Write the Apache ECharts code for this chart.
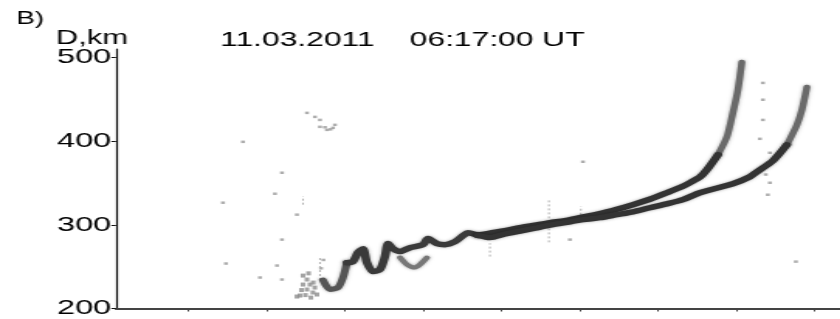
<!DOCTYPE html>
<html>
<head>
<meta charset="utf-8">
<script src="https://cdn.jsdelivr.net/npm/echarts@6/dist/echarts.min.js"></script>
<style>
html, body { margin: 0; padding: 0; background: #fff; overflow: hidden; }
/* the original picture is stretched sideways, so the chart is drawn narrow and widened */
#wrap { width: 542px; height: 319px; transform: scaleX(1.55); transform-origin: 0 0; }
#chart { width: 542px; height: 319px; }
</style>
</head>
<body>
<div id="wrap"><div id="chart"></div></div>
<script>
// axis ticks
const yTicks = [200, 300, 400, 500];
const xTicks = [1, 2, 3, 4, 5, 6, 7, 8, 9];

// first loop of the wavy trace
const waveHead = [[2.724, 234], [2.814, 222.7], [2.916, 225.0], [2.980, 237.0], [3.031, 254.8]];
// wavy trunk before the split
const waveTrunk = [[3.031, 254.8], [3.107, 256.0], [3.171, 266.8], [3.235, 271.5], [3.286, 254.8], [3.363, 244.1],
  [3.452, 246.5], [3.516, 262], [3.556, 277.5], [3.618, 271.5], [3.708, 268.0], [3.835, 272.7],
  [4.001, 276.3], [4.065, 283.5], [4.180, 277.5], [4.282, 276.3], [4.410, 279.9], [4.512, 287.0],
  [4.576, 290.6], [4.704, 287.5]];
// small loop under the trunk
const sideLoop = [[3.708, 260.8], [3.797, 252.5], [3.899, 248.9], [3.963, 252.5], [4.052, 260.8]];
// upper branch (ends near 500 km)
const upperBranch = [[4.704, 287.5], [4.857, 290.0], [5.049, 293.0], [5.240, 296.5], [5.432, 299.5], [5.623, 302.5],
  [5.815, 305.0], [6.006, 308.5], [6.262, 313.3], [6.479, 318.5], [6.683, 324.0], [6.900, 330.5],
  [7.117, 338.3], [7.322, 346.0], [7.411, 350.2], [7.539, 357.0], [7.628, 365.7], [7.769, 383.6]];
const upperTop = [[7.769, 383.6], [7.884, 405.1], [7.960, 433.7], [8.024, 461.1], [8.075, 494.5]];
// lower branch (ends near 465 km)
const lowerBranch = [[4.704, 287.5], [4.857, 284.7], [5.049, 289.0], [5.240, 292.5], [5.432, 296.0], [5.623, 299.5],
  [5.815, 302.5], [6.045, 306.1], [6.262, 308.5], [6.479, 312.1], [6.683, 315.5], [6.900, 320.4],
  [7.117, 325.0], [7.322, 330.0], [7.539, 338.3], [7.960, 349.0], [8.178, 357.4], [8.267, 363.3],
  [8.471, 376.5], [8.650, 395.5]];
const lowerTop = [[8.650, 395.5], [8.778, 419.4], [8.842, 437.3], [8.906, 464.7]];

// diffuse echo cloud at the start of the trace
const cloudPts = [[2.392, 214.3], [2.430, 215.5], [2.469, 228.6], [2.520, 234.6], [2.520, 222.7], [2.558, 228.6],
  [2.596, 219.1], [2.648, 216.7], [2.469, 239.3], [2.45, 222], [2.62, 225], [2.57, 213], [2.50, 216],
  [2.60, 231], [2.54, 242]];
// short vertical streaks
const streaks = [[2.686, 234], [2.686, 262], [2.686, '-'],
  [4.857, 262], [4.857, 278], [4.857, '-'],
  [5.610, 279], [5.610, 330], [5.610, '-'],
  [6.019, 312], [6.019, 322], [6.019, '-'],
  [2.469, 324], [2.469, 334]];
// scattered single echoes
const noisePts = [[1.702, 399.1], [1.447, 326.4], [1.485, 253.7], [1.920, 237], [2.111, 337.1], [2.201, 362.2],
  [2.392, 312.1], [2.137, 251.3], [2.201, 282.3], [2.201, 234.6],
  [2.520, 433.7], [2.622, 428.9], [2.686, 425.3], [2.686, 417], [2.775, 413.4], [2.877, 419.4], [2.852, 415.8],
  [2.75, 416.5], [2.82, 414], [5.879, 282.3], [8.765, 256], [6.045, 375.3],
  [8.344, 469.5], [8.344, 449.4], [8.344, 425.3], [8.305, 402.7], [8.433, 386], [8.407, 335.9], [8.433, 350.2],
  [8.41, 372], [8.38, 360], [2.73, 258], [2.70, 248]];

const chart = echarts.init(document.getElementById('chart'), null, { renderer: 'canvas' });

function trace(data, color, width) {
  return {
    type: 'line', data: data, smooth: 0.25, showSymbol: false, silent: true,
    lineStyle: {
      color: color, width: width, cap: 'round', join: 'round',
      shadowBlur: 3, shadowColor: 'rgba(0,0,0,0.35)'
    }
  };
}

const font = '"Liberation Sans", Arial, sans-serif';

const option = {
  animation: false,
  backgroundColor: '#fff',
  title: [
    { text: 'B)', left: 5.5, top: 5, textStyle: { fontFamily: font, fontSize: 18, fontWeight: 'normal', color: '#000' } },
    { text: 'D,km', left: 31, top: 23, textStyle: { fontFamily: font, fontSize: 20, fontWeight: 'normal', color: '#000' } },
    { text: '11.03.2011    06:17:00 UT', left: 137, top: 24.5, textStyle: { fontFamily: font, fontSize: 20.5, fontWeight: 'normal', color: '#000' } }
  ],
  grid: { left: 74.8, right: 0, top: 49, bottom: 10 },
  xAxis: {
    type: 'value', min: 0.08, max: 9.33,
    splitLine: { show: false },
    axisLine: { lineStyle: { color: '#444', width: 1.8 } },
    axisTick: { show: true, length: 3, customValues: xTicks, lineStyle: { color: '#444', width: 1 } },
    axisLabel: { show: false }
  },
  yAxis: {
    type: 'value', min: 200, max: 510,
    splitLine: { show: false },
    axisLine: { show: true, lineStyle: { color: '#111', width: 1.2 } },
    axisTick: { show: true, length: 3, customValues: yTicks, lineStyle: { color: '#111' } },
    axisLabel: { customValues: yTicks, margin: 3, fontFamily: font, fontSize: 21, color: '#000' }
  },
  series: [
    {
      type: 'scatter', data: cloudPts, symbol: 'rect', symbolSize: [3, 4], silent: true,
      itemStyle: { color: '#8c8c8c' }
    },
    {
      type: 'scatter', data: noisePts, symbol: 'rect', symbolSize: 2.5, silent: true,
      itemStyle: { color: '#999' }
    },
    {
      type: 'line', data: streaks, showSymbol: false, silent: true, connectNulls: false,
      lineStyle: { color: '#b0b0b0', width: 1, type: [2, 2] }
    },
    trace(waveHead, '#555', 5),
    trace(sideLoop, '#777', 4),
    trace(upperTop, '#6a6a6a', 4.5),
    trace(lowerTop, '#6a6a6a', 4.5),
    trace(waveTrunk, '#3a3a3a', 5.5),
    trace(upperBranch, '#333', 5.5),
    trace(lowerBranch, '#333', 5.5)
  ]
};

chart.setOption(option);
</script>
</body>
</html>
